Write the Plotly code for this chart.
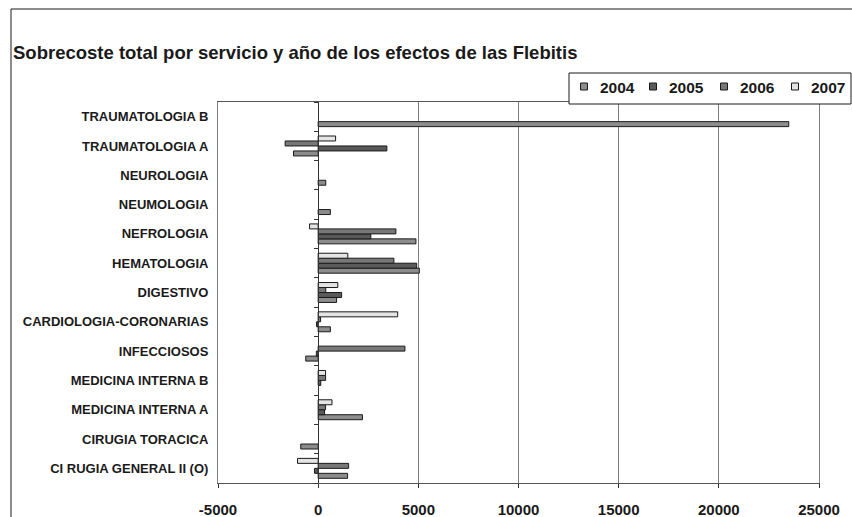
import plotly.graph_objects as go

categories = ["TRAUMATOLOGIA B", "TRAUMATOLOGIA A", "NEUROLOGIA", "NEUMOLOGIA",
              "NEFROLOGIA", "HEMATOLOGIA", "DIGESTIVO", "CARDIOLOGIA-CORONARIAS",
              "INFECCIOSOS", "MEDICINA INTERNA B", "MEDICINA INTERNA A",
              "CIRUGIA TORACICA", "CI RUGIA GENERAL II (O)"]
v2004 = [23490, -1230, 380, 610, 4880, 5050, 920, 610, -620, None, 2210, -870, 1470]
v2005 = [None, 3430, None, None, 2630, 4920, 1170, -80, -90, 130, 320, None, -180]
v2006 = [None, -1650, None, None, 3880, 3780, 380, 120, 4330, 370, 370, None, 1520]
v2007 = [None, 870, None, None, -430, 1480, 980, 3970, None, 370, 690, None, -1030]
series_names = ["2004", "2005", "2006", "2007"]
series_colors = ["#8c8c8c", "#5a5a5a", "#787878", "#e4e4e4"]
xticks = [-5000, 0, 5000, 10000, 15000, 20000, 25000]

FONT = "Liberation Sans, Arial, sans-serif"

fig = go.Figure()
for name, vals, col in zip(series_names, [v2004, v2005, v2006, v2007], series_colors):
    fig.add_trace(go.Bar(
        x=vals, y=categories, orientation="h", name=name, showlegend=False,
        marker=dict(color=col, line=dict(color="#1a1a1a", width=1)),
    ))

# invisible trace to carry the category axis drawn at x = 0
fig.add_trace(go.Scatter(x=[0] * len(categories), y=categories, yaxis="y2",
                         mode="markers", marker=dict(opacity=0),
                         showlegend=False, hoverinfo="skip"))

W, H = 852, 517
L, R, T, B = 218, 33, 102, 34
pw, ph = W - L - R, H - T - B

def px(x):
    return (x - L) / pw

def py(y):
    return (H - B - y) / ph

shapes = [
    dict(type="line", xref="paper", yref="paper", x0=px(11), x1=px(11),
         y0=py(530), y1=py(9), line=dict(color="#1a1a1a", width=1)),
    dict(type="line", xref="paper", yref="paper", x0=px(11), x1=px(860),
         y0=py(9), y1=py(9), line=dict(color="#1a1a1a", width=1)),
    # legend box
    dict(type="rect", xref="paper", yref="paper", x0=px(569), x1=px(851),
         y0=py(104), y1=py(73), line=dict(color="#1a1a1a", width=1),
         fillcolor="white", layer="above"),
]
annotations = []
leg_x = [580.5, 649.5, 720.5, 791.5]
for xs, name, col in zip(leg_x, series_names, series_colors):
    shapes.append(dict(type="rect", xref="paper", yref="paper",
                       x0=px(xs), x1=px(xs + 7), y0=py(90), y1=py(83),
                       line=dict(color="#1a1a1a", width=1), fillcolor=col, layer="above"))
    annotations.append(dict(text=name, xref="paper", yref="paper", x=px(xs + 17.5),
                            y=py(87), xanchor="left", yanchor="middle", showarrow=False,
                            font=dict(family=FONT, size=15.5, weight="bold", color="#1a1a1a")))

fig.update_layout(
    width=W, height=H,
    margin=dict(l=L, r=R, t=T, b=B, autoexpand=False),
    paper_bgcolor="white", plot_bgcolor="white",
    barmode="group", bargap=0.32, bargroupgap=0,
    showlegend=False,
    font=dict(family=FONT, color="#1a1a1a"),
    title=dict(text="Sobrecoste total por servicio y año de los efectos de las Flebitis",
               x=13 / W, xanchor="left", xref="container",
               y=1 - 53 / H, yanchor="middle", yref="container",
               font=dict(family=FONT, size=18.5, weight="bold", color="#1a1a1a")),
    xaxis=dict(range=[-5000, 25000], tickvals=xticks, ticktext=[str(t) for t in xticks],
               automargin=False,
               showgrid=True, gridcolor="#808080", gridwidth=1,
               zeroline=False, showline=True, linecolor="#555555", mirror=True,
               ticks="outside", ticklen=4, tickcolor="#333333",
               ticklabelstandoff=9,
               tickfont=dict(family=FONT, size=15, weight="bold", color="#1a1a1a")),
    yaxis=dict(categoryorder="array", categoryarray=categories[::-1],
               range=[-0.5, len(categories) - 0.5], automargin=False,
               showgrid=False, zeroline=False, showline=True, linecolor="#808080", mirror=True,
               ticks="", ticklabelstandoff=6,
               tickfont=dict(family=FONT, size=13, weight="bold", color="#1a1a1a")),
    yaxis2=dict(overlaying="y", anchor="free", position=1 / 6, automargin=False,
                categoryorder="array", categoryarray=categories[::-1],
                range=[-0.5, len(categories) - 0.5],
                showgrid=False, zeroline=False, showline=True, linecolor="#333333",
                ticks="outside", ticklen=4, tickcolor="#333333", tickson="boundaries",
                showticklabels=False),
    shapes=shapes,
    annotations=annotations,
)

fig.write_html("out.html")
